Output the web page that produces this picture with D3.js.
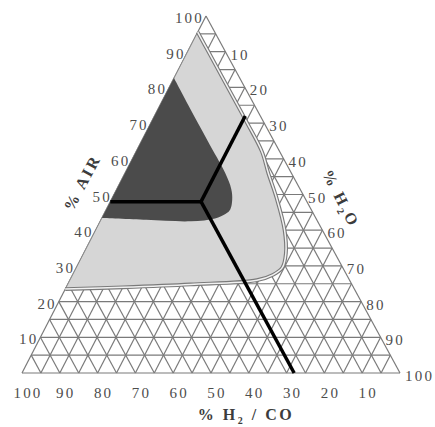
<!DOCTYPE html>
<html>
<head>
<meta charset="utf-8">
<script src="https://cdn.jsdelivr.net/npm/d3@7"></script>
<style>
    body { margin: 0; background: #fff; }
    svg { display: block; }
    .tick-label { font-size: 15px; fill: #4d4d4d; letter-spacing: 2.2px; }
    .axis-title { font-size: 16px; font-weight: bold; fill: #3c3c3c; letter-spacing: 2.5px; }
</style>
</head>
<body>
<div id="chart-container"></div>
<script>
// tick values on each side (%)
var airTicks = [10, 20, 30, 40, 50, 60, 70, 80, 90, 100];
var h2oTicks = [10, 20, 30, 40, 50, 60, 70, 80, 90, 100];
var h2coTicks = [100, 90, 80, 70, 60, 50, 40, 30, 20, 10];
var gridSteps = d3.range(0, 101, 5);

// region boundaries as [AIR, H2O] in %, H2/CO is what is left
var lightRegion = [[95.5, 0], [90, 5.5], [80, 15.5], [70, 25.5], [62, 33.3], [56, 37.9], [49, 43.5],
    [40, 50], [33.5, 53.5], [29.5, 54.5], [27.5, 53], [26, 49.5], [24.8, 32.5], [24, 15], [23.5, 0]];
var darkRegion = [[82.6, 0], [75, 7.5], [65, 17.5], [56, 26.5], [51.5, 30.3], [48.5, 32], [45.8, 32.8],
    [44.6, 32.2], [43.3, 30], [42.5, 24], [42.9, 12], [43.4, 0]];

// optimum point: AIR, H2O (H2/CO = 28)
var junction = [48, 24];

var width = 435, height = 427;
var serif = "'Liberation Serif', 'Times New Roman', serif";

var svg = d3.select("#chart-container")
    .append("svg")
    .attr("width", width)
    .attr("height", height);

var yScale = d3.scaleLinear().domain([0, 100]).range([373, 16]);
var edgeX = d3.scaleLinear().domain([0, 100]).range([22, 206]);
var h2oScale = d3.scaleLinear().domain([0, 100]).range([0, 378]);

function project(d) {
    return [edgeX(d[0]) + h2oScale(d[1]), yScale(d[0])];
}

// 5% grid
var gridLines = [];
gridSteps.forEach(function(v) {
    gridLines.push([[v, 0], [v, 100 - v]]);       // constant AIR
    gridLines.push([[0, v], [100 - v, v]]);       // constant H2O
    gridLines.push([[0, 100 - v], [100 - v, 0]]); // constant H2/CO
});

var straight = d3.line().x(function(d) { return project(d)[0]; }).y(function(d) { return project(d)[1]; });
var smooth = d3.line().curve(d3.curveCatmullRom.alpha(0.5))
    .x(function(d) { return project(d)[0]; }).y(function(d) { return project(d)[1]; });

svg.append("g")
    .selectAll("path")
    .data(gridLines)
    .enter().append("path")
    .attr("d", straight)
    .attr("fill", "none")
    .attr("stroke", "#7a7a7a")
    .attr("stroke-width", 1.2);

svg.append("path")
    .attr("d", smooth(lightRegion) + "Z")
    .attr("fill", "#d6d6d6")
    .attr("stroke", "#8a8a8a")
    .attr("stroke-width", 1);

svg.append("path")
    .attr("d", smooth(lightRegion))
    .attr("fill", "none")
    .attr("stroke", "#7a7a7a")
    .attr("stroke-width", 3.8);

svg.append("path")
    .attr("d", smooth(lightRegion))
    .attr("fill", "none")
    .attr("stroke", "#f2f2f2")
    .attr("stroke-width", 1.5);

svg.append("path")
    .attr("d", smooth(darkRegion) + "Z")
    .attr("fill", "#4b4b4b");

// reading lines from the optimum to each axis
var readLines = [
    [junction, [junction[0], 0]],
    [junction, [100 - (100 - junction[0] - junction[1]), junction[1]]],
    [junction, [0, junction[0] + junction[1]]]
];

svg.append("g")
    .selectAll("path")
    .data(readLines)
    .enter().append("path")
    .attr("d", straight)
    .attr("stroke", "#000")
    .attr("stroke-width", 3.5)
    .attr("stroke-linecap", "butt");

svg.append("g")
    .selectAll("text")
    .data(airTicks)
    .enter().append("text")
    .attr("class", "tick-label")
    .attr("font-family", serif)
    .attr("text-anchor", "end")
    .attr("x", function(d) { return project([d, 0])[0] - 2; })
    .attr("y", function(d) { return project([d, 0])[1] + 7; })
    .text(function(d) { return d; });

svg.append("g")
    .selectAll("text")
    .data(h2oTicks)
    .enter().append("text")
    .attr("class", "tick-label")
    .attr("font-family", serif)
    .attr("text-anchor", "start")
    .attr("x", function(d) { return project([100 - d, d])[0] + 5; })
    .attr("y", function(d) { return project([100 - d, d])[1] + 8; })
    .text(function(d) { return d; });

svg.append("g")
    .selectAll("text")
    .data(h2coTicks)
    .enter().append("text")
    .attr("class", "tick-label")
    .attr("font-family", serif)
    .attr("text-anchor", "middle")
    .attr("x", function(d) { return project([0, 100 - d])[0] + 6; })
    .attr("y", 398)
    .text(function(d) { return d; });

svg.append("text")
    .attr("class", "axis-title")
    .attr("font-family", serif)
    .attr("text-anchor", "middle")
    .attr("transform", "translate(87,185) rotate(-62)")
    .text("% AIR");

var h2oTitle = svg.append("text")
    .attr("class", "axis-title")
    .attr("font-family", serif)
    .attr("text-anchor", "middle")
    .attr("transform", "translate(336,201) rotate(63)");
h2oTitle.append("tspan").text("% H");
h2oTitle.append("tspan").attr("dy", 4).attr("font-size", 10).text("2");
h2oTitle.append("tspan").attr("dy", -4).text("O");

var h2coTitle = svg.append("text")
    .attr("class", "axis-title")
    .attr("font-family", serif)
    .attr("text-anchor", "middle")
    .attr("x", 246)
    .attr("y", 420);
h2coTitle.append("tspan").text("% H");
h2coTitle.append("tspan").attr("dy", 4).attr("font-size", 10).text("2");
h2coTitle.append("tspan").attr("dy", -4).text(" / CO");
</script>
</body>
</html>
